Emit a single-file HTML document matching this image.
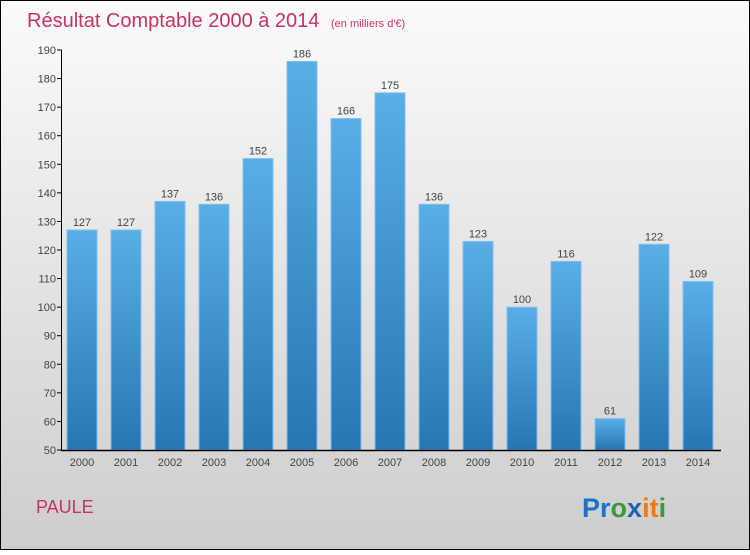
<!DOCTYPE html>
<html><head><meta charset="utf-8"><style>
body{margin:0;width:750px;height:550px;overflow:hidden;font-family:"Liberation Sans",sans-serif}
</style></head><body>
<svg width="750" height="550" xmlns="http://www.w3.org/2000/svg">
<defs>
<linearGradient id="bg" x1="0" y1="0" x2="0" y2="1"><stop offset="0" stop-color="#fbfbfb"/><stop offset="1" stop-color="#cdcdcd"/></linearGradient>
<linearGradient id="bar" x1="0" y1="0" x2="0" y2="1"><stop offset="0" stop-color="#5aaee6"/><stop offset="1" stop-color="#2676b2"/></linearGradient>
</defs>
<rect x="0.5" y="0.5" width="749" height="549" fill="url(#bg)" stroke="#000"/>
<text x="27" y="27" font-size="20" fill="#c8325f">Résultat Comptable 2000 à 2014 <tspan font-size="11" dx="6">(en milliers d'€)</tspan></text>
<g id="plot"></g>
<text x="36" y="513" font-size="18" fill="#c8325f">PAULE</text>
<text x="582" y="517" font-size="27" font-weight="bold"><tspan fill="#1a73c8">Pr</tspan><tspan fill="#3a9a3a">o</tspan><tspan fill="#1a63b8">x</tspan><tspan fill="#f07a10">i</tspan><tspan fill="#f07a10">t</tspan><tspan fill="#3a9a3a">i</tspan></text>
</svg>
<script>
const years=["2000","2001","2002","2003","2004","2005","2006","2007","2008","2009","2010","2011","2012","2013","2014"];
const values=[127,127,137,136,152,186,166,175,136,123,100,116,61,122,109];
const yTicks=[50,60,70,80,90,100,110,120,130,140,150,160,170,180,190];
const NS="http://www.w3.org/2000/svg";
const g=document.getElementById("plot");
const y=v=>450-(v-50)*400/140;
const x=i=>67+i*44;
function mk(t,a,txt){const e=document.createElementNS(NS,t);for(const k in a)e.setAttribute(k,a[k]);if(txt!=null)e.textContent=txt;g.appendChild(e);return e;}
yTicks.forEach(t=>{
const l=mk("line",{x1:57,x2:62,y1:y(t),y2:y(t),stroke:"#000"});


const tx=mk("text",{x:56,y:y(t)+4,"font-size":11,fill:"#444","text-anchor":"end"},t);


});
values.forEach((v,i)=>{
const r=mk("rect",{x:x(i),y:y(v),width:30,height:450-y(v),fill:"url(#bar)",stroke:"#7fc0ee","stroke-width":1});


const lb=mk("text",{x:x(i)+15,y:y(v)-4,"font-size":11,fill:"#444","text-anchor":"middle"},v);


const yl=mk("text",{x:x(i)+15,y:466,"font-size":11,fill:"#444","text-anchor":"middle"},years[i]);


});
const ya=mk("line",{x1:61.5,x2:61.5,y1:y(190),y2:450.5,stroke:"#000"});


const xa=mk("line",{x1:61,x2:721,y1:450.5,y2:450.5,stroke:"#000","stroke-width":1.5});


</script>
</body></html>
